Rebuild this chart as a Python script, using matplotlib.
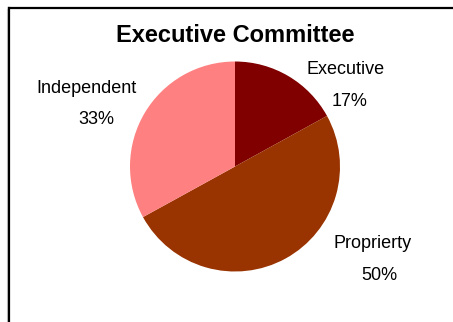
import matplotlib
matplotlib.use("Agg")
import matplotlib.pyplot as plt
from matplotlib.lines import Line2D

plt.rcParams['font.family'] = ['Liberation Sans', 'DejaVu Sans']

categories = ["Executive", "Proprierty", "Independent"]
shares = [17, 50, 33]
colors = ["#800000", "#993300", "#FF8080"]

W, H = 453, 322
fig = plt.figure(figsize=(W / 100, H / 100), dpi=100)
fig.patch.set_facecolor("white")

def fx(px):
    return px / W

def fy(py):
    return 1 - py / H

# frame: thin shadow plus black top and left edges
fig.add_artist(Line2D([fx(7), fx(7)], [fy(9), 0], color="#c8c8c8", lw=0.8))
fig.add_artist(Line2D([fx(8.5), fx(8.5)], [fy(8), 0], color="black", lw=1.6))
fig.add_artist(Line2D([fx(8.5), fx(452)], [fy(8), fy(8)], color="black", lw=1.6))

fig.text(fx(235.5), fy(42), "Executive Committee", ha="center", va="baseline",
         fontsize=17, fontweight="bold")

cx, cy, r = 235, 166.5, 105
ax = fig.add_axes([fx(cx - r), fy(cy + r), (2 * r) / W, (2 * r) / H])
ax.pie(shares, colors=colors, startangle=90, counterclock=False, radius=1,
       wedgeprops=dict(linewidth=0))
ax.set_xlim(-1, 1)
ax.set_ylim(-1, 1)
ax.axis("off")

label_pos = {
    "Executive": ((346, 74), (350, 106)),
    "Proprierty": ((373, 248), (379, 280)),
    "Independent": ((87, 92.5), (96, 124)),
}
for name, val in zip(categories, shares):
    (nx, ny), (vx, vy) = label_pos[name]
    fig.text(fx(nx), fy(ny), name, ha="center", va="baseline", fontsize=13)
    fig.text(fx(vx), fy(vy), f"{val}%", ha="center", va="baseline", fontsize=13)

fig.savefig("out.png", dpi=100)
